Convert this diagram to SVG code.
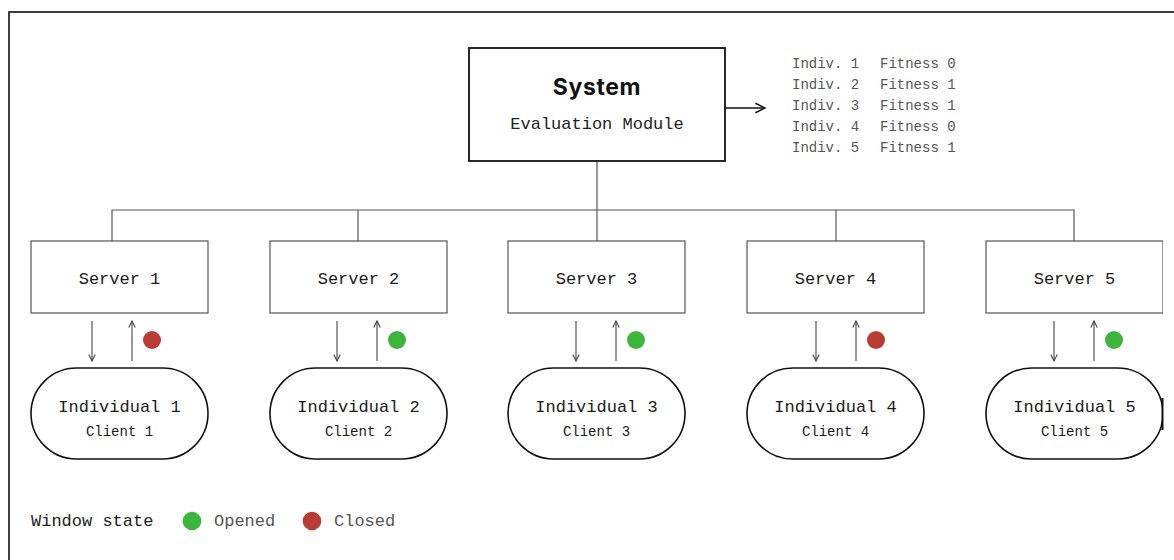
<svg xmlns="http://www.w3.org/2000/svg" width="1174" height="560" viewBox="0 0 1174 560">
  <style>
    .mono { font-family: "Liberation Mono", "DejaVu Sans Mono", monospace; }
    .title { font-family: Inter, "Liberation Sans", sans-serif; font-weight: 700; font-size: 23px; fill: #111; letter-spacing: 0.6px; }
    .sub { font-size: 17px; fill: #222; }
    .fit { font-size: 14px; fill: #555; }
    .srv rect { fill: #fff; stroke: #555; stroke-width: 1.2; }
    .ind rect { fill: #fff; stroke: #111; stroke-width: 1.6; }
    .lbl { font-size: 17px; fill: #1a1a1a; text-anchor: middle; }
    .cli { font-size: 14px; fill: #1a1a1a; text-anchor: middle; }
    .tree { fill: none; stroke: #555; stroke-width: 1.2; }
    .io { stroke: #555; stroke-width: 1.2; marker-end: url(#tip); }
    .open { fill: #3bb53b; }
    .closed { fill: #b83b34; }
    .leg { font-size: 17px; fill: #222; }
    .legv { font-size: 17px; fill: #555; }
  </style>
  <defs>
    <marker id="tip" viewBox="0 0 10 10" refX="9" refY="5" markerWidth="8" markerHeight="8" markerUnits="userSpaceOnUse" orient="auto">
      <path d="M1,1 L9,5 L1,9" fill="none" stroke="#444" stroke-width="1.4"/>
    </marker>
    <marker id="tipBig" viewBox="0 0 10 10" refX="9" refY="5" markerWidth="12" markerHeight="12" markerUnits="userSpaceOnUse" orient="auto">
      <path d="M1,1 L9,5 L1,9" fill="none" stroke="#111" stroke-width="1.3"/>
    </marker>
    <clipPath id="view">
      <rect x="0" y="0" width="1163" height="560"/>
    </clipPath>
  </defs>

  <rect width="1174" height="560" fill="#fff"/>
  <!-- outer frame (open to the right and bottom) -->
  <rect x="9" y="12" width="1200" height="600" fill="none" stroke="#111" stroke-width="1.6"/>

  <g clip-path="url(#view)">
    <!-- connectors -->
    <g id="connectors">
      <path class="tree" d="M597,161 V241"/>
      <path class="tree" d="M112,241 V210 H1074 V241 M358,210 V241 M836,210 V241"/>
      <line x1="725" y1="108" x2="765" y2="108" stroke="#111" stroke-width="1.4" marker-end="url(#tipBig)"/>
      <line class="io" x1="92" y1="321" x2="92" y2="361"/>
      <line class="io" x1="132" y1="361" x2="132" y2="321"/>
      <line class="io" x1="337" y1="321" x2="337" y2="361"/>
      <line class="io" x1="377" y1="361" x2="377" y2="321"/>
      <line class="io" x1="576" y1="321" x2="576" y2="361"/>
      <line class="io" x1="616" y1="361" x2="616" y2="321"/>
      <line class="io" x1="816" y1="321" x2="816" y2="361"/>
      <line class="io" x1="856" y1="361" x2="856" y2="321"/>
      <line class="io" x1="1054" y1="321" x2="1054" y2="361"/>
      <line class="io" x1="1094" y1="361" x2="1094" y2="321"/>
    </g>

    <!-- system -->
    <g id="system">
      <rect x="469" y="48" width="256" height="113" fill="#fff" stroke="#111" stroke-width="1.8"/>
      <text class="title" x="597" y="95" text-anchor="middle">System</text>
      <text class="mono sub" x="597" y="129" text-anchor="middle">Evaluation Module</text>
    </g>

    <!-- fitness results -->
    <g id="fitness" class="mono fit">
      <text x="792" y="68">Indiv. 1</text><text x="880" y="68">Fitness 0</text>
      <text x="792" y="89">Indiv. 2</text><text x="880" y="89">Fitness 1</text>
      <text x="792" y="110">Indiv. 3</text><text x="880" y="110">Fitness 1</text>
      <text x="792" y="131">Indiv. 4</text><text x="880" y="131">Fitness 0</text>
      <text x="792" y="152">Indiv. 5</text><text x="880" y="152">Fitness 1</text>
    </g>

    <!-- servers -->
    <g id="server1" class="srv"><rect x="31" y="241" width="177" height="72"/><text class="mono lbl" x="119.5" y="284">Server 1</text></g>
    <g id="server2" class="srv"><rect x="270" y="241" width="177" height="72"/><text class="mono lbl" x="358.5" y="284">Server 2</text></g>
    <g id="server3" class="srv"><rect x="508" y="241" width="177" height="72"/><text class="mono lbl" x="596.5" y="284">Server 3</text></g>
    <g id="server4" class="srv"><rect x="747" y="241" width="177" height="72"/><text class="mono lbl" x="835.5" y="284">Server 4</text></g>
    <g id="server5" class="srv"><rect x="986" y="241" width="177" height="72"/><text class="mono lbl" x="1074.5" y="284">Server 5</text></g>

    <!-- window state dots -->
    <g id="states">
      <circle class="closed" cx="152" cy="340" r="9"/>
      <circle class="open" cx="397" cy="340" r="9"/>
      <circle class="open" cx="636" cy="340" r="9"/>
      <circle class="closed" cx="876" cy="340" r="9"/>
      <circle class="open" cx="1114" cy="340" r="9"/>
    </g>

    <!-- individuals / clients -->
    <g id="individual1" class="ind"><rect x="31" y="368" width="177" height="91" rx="45.5"/><text class="mono lbl" x="119.5" y="412">Individual 1</text><text class="mono cli" x="119.5" y="436">Client 1</text></g>
    <g id="individual2" class="ind"><rect x="270" y="368" width="177" height="91" rx="45.5"/><text class="mono lbl" x="358.5" y="412">Individual 2</text><text class="mono cli" x="358.5" y="436">Client 2</text></g>
    <g id="individual3" class="ind"><rect x="508" y="368" width="177" height="91" rx="45.5"/><text class="mono lbl" x="596.5" y="412">Individual 3</text><text class="mono cli" x="596.5" y="436">Client 3</text></g>
    <g id="individual4" class="ind"><rect x="747" y="368" width="177" height="91" rx="45.5"/><text class="mono lbl" x="835.5" y="412">Individual 4</text><text class="mono cli" x="835.5" y="436">Client 4</text></g>
    <g id="individual5" class="ind"><rect x="986" y="368" width="177" height="91" rx="45.5"/><text class="mono lbl" x="1074.5" y="412">Individual 5</text><text class="mono cli" x="1074.5" y="436">Client 5</text></g>
  </g>
  <!-- clipped edge of the last pill -->
  <line x1="1162.5" y1="398" x2="1162.5" y2="430" stroke="#111" stroke-width="2"/>

  <!-- legend -->
  <g id="legend">
    <text class="mono leg" x="31" y="526">Window state</text>
    <circle class="open" cx="192" cy="521" r="9.3"/>
    <text class="mono legv" x="214" y="526">Opened</text>
    <circle class="closed" cx="312" cy="521" r="9.3"/>
    <text class="mono legv" x="334" y="526">Closed</text>
  </g>
</svg>
